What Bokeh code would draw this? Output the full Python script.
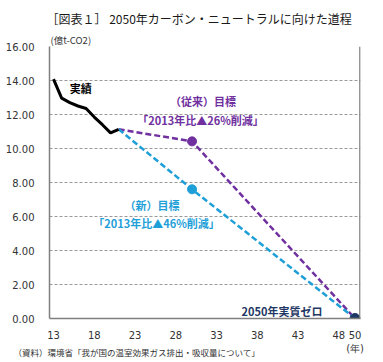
from bokeh.plotting import figure
from bokeh.models import (Range1d, FixedTicker, NumeralTickFormatter, Label, Span, Title)
from bokeh.embed import file_html
from bokeh.resources import INLINE

# ---- data ----
actual_years = [13, 14, 15, 16, 17, 18, 19, 20, 21]
actual_vals = [14.08, 12.96, 12.70, 12.50, 12.35, 11.85, 11.40, 10.92, 11.13]
target_years = [21, 30, 50]
old_target = [11.13, 10.42, 0.0]
new_target = [11.13, 7.60, 0.0]
x_ticks = [13, 18, 23, 28, 33, 38, 43, 48, 50]
x_tick_labels = {50: "50\n(年)"}
y_ticks = [0, 2, 4, 6, 8, 10, 12, 14, 16]

PURPLE = "#7030a0"
CYAN = "#1f9fd8"
NAVY = "#1f3864"
JP = "Noto Sans CJK JP"

p = figure(width=382, height=361, output_backend="svg", toolbar_location=None,
           x_range=Range1d(12.51, 50.67), y_range=Range1d(0, 16),
           min_border_left=49, min_border_right=22, min_border_top=46, min_border_bottom=43)
p.outline_line_color = None
p.background_fill_color = "white"

# titles
p.title.text = "［図表１］ 2050年カーボン・ニュートラルに向けた道程"
p.title.text_font = JP
p.title.text_font_size = "12px"
p.title.text_font_style = "normal"
p.title.text_color = "#1a1a1a"
p.title.align = "left"
p.title.offset = -3
p.title.standoff = 7
p.add_layout(Title(text="(億t-CO2)", text_font=JP, text_font_size="9.5px",
                   text_font_style="normal", text_color="#333333",
                   align="left", offset=1, standoff=0), "above")

# axes
for ax in (p.xaxis[0], p.yaxis[0]):
    ax.axis_line_color = "#7f7f7f"
    ax.axis_line_width = 1.5
    ax.major_tick_line_color = None
    ax.minor_tick_line_color = None
    ax.major_label_text_font = "DejaVu Sans"
    ax.major_label_text_font_size = "10px"
    ax.major_label_text_color = "#333333"
p.xaxis.ticker = FixedTicker(ticks=x_ticks)
p.xaxis.major_label_overrides = x_tick_labels
p.yaxis.ticker = FixedTicker(ticks=y_ticks)
p.yaxis.formatter = NumeralTickFormatter(format="0.00")
p.yaxis.major_label_standoff = 9
p.xaxis.major_label_standoff = 5

p.add_layout(Title(text="（資料）環境省「我が国の温室効果ガス排出・吸収量について」", text_font=JP,
                   text_font_size="8.5px", text_font_style="normal", text_color="#333333",
                   align="left", vertical_align="top", offset=-36, standoff=-22), "below")

p.xgrid.grid_line_color = None
p.ygrid.grid_line_color = "#9a9a9a"
p.ygrid.grid_line_dash = "3 2"
p.ygrid.grid_line_width = 1

p.add_layout(Span(location=50.6, dimension="height", line_color="#7f7f7f", line_width=1.5))

# lines
p.line(target_years, old_target, line_color=PURPLE, line_width=2.5, line_dash="6 3")
p.line(target_years, new_target, line_color=CYAN, line_width=2.5, line_dash="6 3")
p.line(actual_years, actual_vals, line_color="black", line_width=3)
p.scatter(target_years[1:2], old_target[1:2], size=9, color=PURPLE)
p.scatter(target_years[1:2], new_target[1:2], size=9, color=CYAN)
p.scatter(target_years[2:], new_target[2:], size=10, color=NAVY)

def lab(x, y, text, size="11px", color="black", bold=False, align="center", font=JP):
    p.add_layout(Label(x=x, y=y, text=text, text_font=font, text_font_size=size,
                       text_color=color, text_font_style="bold" if bold else "normal",
                       text_align=align, text_baseline="middle"))

lab(16.35, 13.55, "実績", size="11px", bold=True)
lab(31.34, 12.82, "（従来）目標", size="11px", color=PURPLE, bold=True)
lab(31.04, 11.65, "「2013年比▲26%削減」", size="11px", color=PURPLE, bold=True)
lab(25.09, 6.65, "（新）目標", size="11px", color=CYAN, bold=True)
lab(25.64, 5.59, "「2013年比▲46%削減」", size="11px", color=CYAN, bold=True)
lab(41.04, 0.47, "2050年実質ゼロ", size="11px", color=NAVY, bold=True)

open("out.html", "w").write(file_html(p, INLINE))
